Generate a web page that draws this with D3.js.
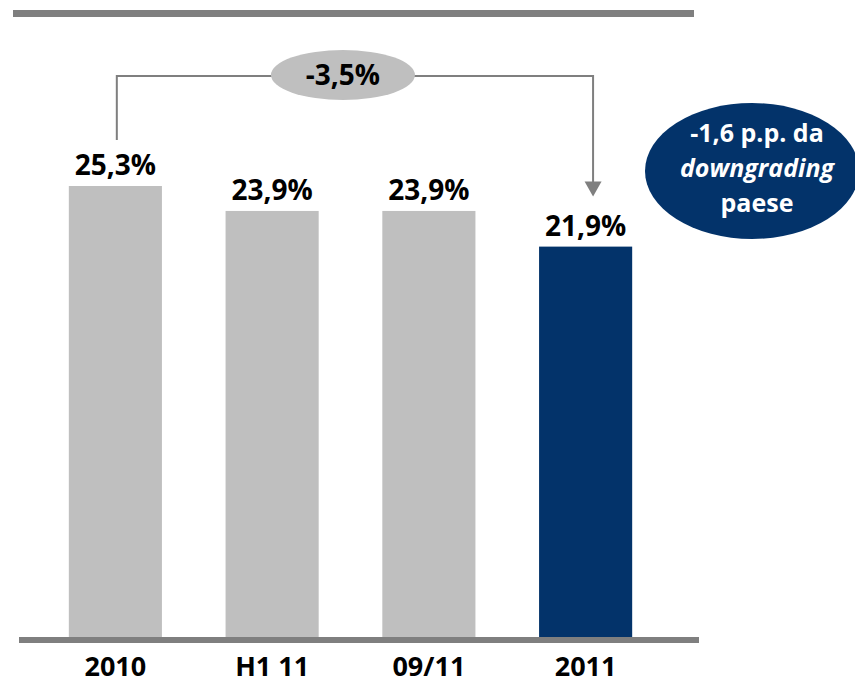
<!DOCTYPE html>
<html>
<head>
<meta charset="utf-8">
<script src="https://cdn.jsdelivr.net/npm/d3@7"></script>
<style>
  html, body { margin: 0; padding: 0; background: #ffffff; }
  svg { display: block; }
  text { font-family: "Open Sans", "Noto Sans", sans-serif; font-weight: 700; }
</style>
</head>
<body>
<svg id="chart" width="855" height="684"></svg>
<script>
const categories = ["2010", "H1 11", "09/11", "2011"];
const values = [25.3, 23.9, 23.9, 21.9];
const valueLabels = ["25,3%", "23,9%", "23,9%", "21,9%"];
const highlight = [false, false, false, true];
const deltaLabel = "-3,5%";
const noteLines = ["-1,6 p.p. da", "downgrading", "paese"];

const svg = d3.select("#chart");
const grey = "#7f7f7f";
const barGrey = "#bfbfbf";
const navy = "#03336a";

const x = d3.scaleBand().domain(categories).range([37, 664]).paddingInner(0.406).paddingOuter(0.203);
const y = d3.scaleLinear().domain([0, 25.3]).range([637, 186]);

// top rule
svg.append("rect").attr("x", 13).attr("y", 10).attr("width", 681).attr("height", 7).attr("fill", grey);

// bars
svg.selectAll("rect.bar").data(categories).enter().append("rect")
  .attr("class", "bar")
  .attr("x", d => x(d))
  .attr("y", (d, i) => y(values[i]))
  .attr("width", x.bandwidth())
  .attr("height", (d, i) => y(0) - y(values[i]))
  .attr("fill", (d, i) => highlight[i] ? navy : barGrey);

// baseline
svg.append("rect").attr("x", 19).attr("y", y(0)).attr("width", 680).attr("height", 6).attr("fill", grey);

// value labels
svg.selectAll("text.val").data(categories).enter().append("text")
  .attr("class", "val")
  .attr("x", d => x(d) + x.bandwidth() / 2)
  .attr("y", (d, i) => y(values[i]) - 11)
  .attr("text-anchor", "middle")
  .attr("font-size", 28)
  .attr("fill", "#000")
  .text((d, i) => valueLabels[i]);

// category labels
svg.selectAll("text.cat").data(categories).enter().append("text")
  .attr("class", "cat")
  .attr("x", d => x(d) + x.bandwidth() / 2)
  .attr("y", 676)
  .attr("text-anchor", "middle")
  .attr("font-size", 27)
  .attr("fill", "#000")
  .text(d => d);

// connector bracket
const xa = x(categories[0]) + 48;
const xb = x(categories[3]) + 54;
const yTop = 76;
svg.append("path")
  .attr("d", `M${xa},${y(values[0]) - 46} V${yTop} H${xb} V${y(values[3]) - 64}`)
  .attr("fill", "none").attr("stroke", grey).attr("stroke-width", 2);
const tipY = y(values[3]) - 50;
svg.append("path")
  .attr("d", `M${xb - 8.5},${tipY - 15} L${xb + 8.5},${tipY - 15} L${xb},${tipY} Z`)
  .attr("fill", grey);

// delta ellipse
const cx = (xa + xb) / 2 - 12;
svg.append("ellipse").attr("cx", cx).attr("cy", 75).attr("rx", 72).attr("ry", 25).attr("fill", barGrey);
svg.append("text").attr("x", cx).attr("y", 85).attr("text-anchor", "middle")
  .attr("font-size", 28).attr("fill", "#000").text(deltaLabel);

// note ellipse
svg.append("ellipse").attr("cx", 752).attr("cy", 171).attr("rx", 107).attr("ry", 68).attr("fill", navy);
const note = svg.append("text").attr("text-anchor", "middle").attr("fill", "#fff").attr("font-size", 25);
noteLines.forEach((t, i) => {
  note.append("tspan").attr("x", 757).attr("y", 142 + i * 35)
    .attr("font-style", i === 1 ? "italic" : "normal").text(t);
});
</script>
</body>
</html>
